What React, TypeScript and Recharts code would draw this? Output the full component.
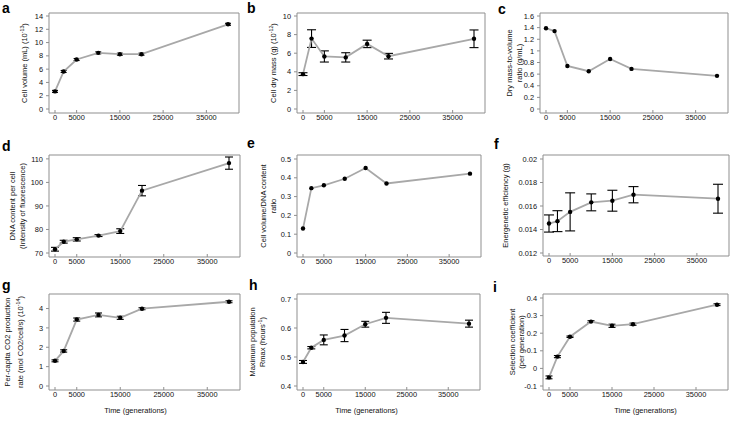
import React from "react";
import { LineChart, Line, XAxis, YAxis, CartesianGrid, ErrorBar, Label } from "recharts";

const FONT = "'Liberation Sans', Arial, sans-serif";

const generations = [0, 2000, 5000, 10000, 15000, 20000, 40000];
const xTicks = [0, 5000, 15000, 25000, 35000];

const cellVolume = [2.65, 5.65, 7.45, 8.45, 8.25, 8.25, 12.75];
const cellVolumeErr = [0.15, 0.15, 0.15, 0.15, 0.15, 0.15, 0.15];
const cellVolumeTicks = [0, 2, 4, 6, 8, 10, 12, 14];

const dryMass = [3.75, 7.57, 5.65, 5.55, 7.0, 5.68, 7.55];
const dryMassErr = [0.15, 0.95, 0.6, 0.5, 0.4, 0.3, 0.95];
const dryMassTicks = [0, 2, 4, 6, 8, 10];

const massToVolume = [1.39, 1.34, 0.74, 0.65, 0.86, 0.69, 0.57];
const massToVolumeTicks = [0, 0.2, 0.4, 0.6, 0.8, 1, 1.2, 1.4, 1.6];

const dnaContent = [71.6, 74.8, 75.8, 77.4, 79.3, 96.5, 108.2];
const dnaContentErr = [0.8, 0.6, 0.7, 0.4, 1.0, 2.2, 2.6];
const dnaContentTicks = [70, 80, 90, 100, 110];

const volumeDnaRatio = [0.13, 0.345, 0.36, 0.395, 0.452, 0.37, 0.422];
const volumeDnaTicks = [0, 0.1, 0.2, 0.3, 0.4, 0.5];

const energeticEff = [0.01451, 0.01471, 0.0155, 0.01631, 0.01645, 0.01696, 0.01662];
const energeticEffErr = [0.00073, 0.00089, 0.00162, 0.00072, 0.00089, 0.00069, 0.00123];
const energeticTicks = [0.012, 0.014, 0.016, 0.018, 0.02];

const co2Rate = [1.3, 1.81, 3.43, 3.67, 3.52, 3.99, 4.35];
const co2RateErr = [0.05, 0.06, 0.08, 0.1, 0.08, 0.05, 0.05];
const co2Ticks = [0, 1, 2, 3, 4];

const rmax = [0.483, 0.532, 0.559, 0.574, 0.613, 0.635, 0.615];
const rmaxErr = [0.005, 0.004, 0.017, 0.021, 0.01, 0.019, 0.012];
const rmaxTicks = [0.4, 0.5, 0.6, 0.7];

const selection = [-0.051, 0.067, 0.18, 0.266, 0.242, 0.251, 0.362];
const selectionErr = [0.008, 0.006, 0.004, 0.005, 0.009, 0.006, 0.005];
const selectionTicks = [-0.1, 0, 0.1, 0.2, 0.3, 0.4];

type TitleLine = { pre: string; sup?: string; post?: string };

type Panel = {
  letter: string;
  letterPos: [number, number];
  frame: { L: number; R: number; T: number; B: number };
  values: number[];
  errors?: number[];
  cap?: number;
  ticks: number[];
  domain: [number, number];
  pad: { top: number; bottom: number };
  title: TitleLine[];
  titleOffsets: number[];
  xTitleDx?: number;
};

const panels: Panel[] = [
  {
    letter: "a", letterPos: [2, 13], frame: { L: 49, R: 239, T: 13, B: 113 },
    values: cellVolume, errors: cellVolumeErr, cap: 3, ticks: cellVolumeTicks, domain: [0, 14], pad: { top: 3, bottom: 4 },
    title: [{ pre: "Cell volume (mL) (10", sup: "-13", post: ")" }], titleOffsets: [-25],
  },
  {
    letter: "b", letterPos: [247, 13], frame: { L: 297, R: 485, T: 13, B: 113 },
    values: dryMass, errors: dryMassErr, cap: 4.5, ticks: dryMassTicks, domain: [0, 10], pad: { top: 3, bottom: 4 },
    title: [{ pre: "Cell dry mass (g) (10", sup: "-12", post: ")" }], titleOffsets: [-24],
  },
  {
    letter: "c", letterPos: [498, 14], frame: { L: 540, R: 728, T: 13, B: 113 },
    values: massToVolume, ticks: massToVolumeTicks, domain: [0, 1.6], pad: { top: 3, bottom: 4 },
    title: [{ pre: "Dry mass-to-volume" }, { pre: "ratio (g/mL)" }], titleOffsets: [-31, -21],
  },
  {
    letter: "d", letterPos: [2, 151], frame: { L: 49, R: 240, T: 155, B: 257 },
    values: dnaContent, errors: dnaContentErr, cap: 4, ticks: dnaContentTicks, domain: [70, 110], pad: { top: 2, bottom: 4 },
    title: [{ pre: "DNA content per cell" }, { pre: "(Intensity of fluorescence)" }], titleOffsets: [-37, -27],
  },
  {
    letter: "e", letterPos: [247, 148], frame: { L: 297, R: 481, T: 155, B: 257 },
    values: volumeDnaRatio, ticks: volumeDnaTicks, domain: [0, 0.5], pad: { top: 4, bottom: 4 },
    title: [{ pre: "Cell volume/DNA content" }, { pre: "ratio" }], titleOffsets: [-34, -24],
  },
  {
    letter: "f", letterPos: [494, 149], frame: { L: 543, R: 729, T: 155, B: 256 },
    values: energeticEff, errors: energeticEffErr, cap: 5, ticks: energeticTicks, domain: [0.012, 0.02], pad: { top: 4, bottom: 3 },
    title: [{ pre: "Energenetic efficiency (g)" }], titleOffsets: [-38],
  },
  {
    letter: "g", letterPos: [2, 290], frame: { L: 49, R: 240, T: 294, B: 390 },
    values: co2Rate, errors: co2RateErr, cap: 3.5, ticks: co2Ticks, domain: [0, 4.75], pad: { top: 0, bottom: 4 },
    title: [{ pre: "Per-capita CO2 production" }, { pre: "rate (mol CO2/cell/s) (10", sup: "-14", post: ")" }],
    titleOffsets: [-42, -29], xTitleDx: -9,
  },
  {
    letter: "h", letterPos: [249, 290], frame: { L: 297, R: 480, T: 294, B: 390 },
    values: rmax, errors: rmaxErr, cap: 4, ticks: rmaxTicks, domain: [0.4, 0.7], pad: { top: 5, bottom: 4 },
    title: [{ pre: "Maximum population" }, { pre: "Rmax (hours", sup: "-1", post: ")" }],
    titleOffsets: [-45, -35], xTitleDx: -22,
  },
  {
    letter: "i", letterPos: [493, 292], frame: { L: 543, R: 728, T: 294, B: 390 },
    values: selection, errors: selectionErr, cap: 3.5, ticks: selectionTicks, domain: [-0.1, 0.4], pad: { top: 4, bottom: 4 },
    title: [{ pre: "Selection coefficient" }, { pre: "(per generation)" }],
    titleOffsets: [-31, -22], xTitleDx: 10,
  },
];

const YW = 52;
const TOP = 6;
const RIGHT = 4;
const TICK_FONT = 7.4;
const TITLE_FONT = 7.5;

const frameRows = ({ offset }: any) => [offset.top, offset.top + offset.height];
const frameCols = ({ offset }: any) => [offset.left, offset.left + offset.width];

function YTitle(props: any) {
  const { viewBox, lines, offsets } = props;
  const ax = viewBox.x + viewBox.width;
  const cy = viewBox.y + viewBox.height / 2;
  return (
    <g>
      {lines.map((ln: TitleLine, i: number) => {
        const x = ax + offsets[i];
        return (
          <text key={i} x={x} y={cy} dy="0.35em" textAnchor="middle" transform={`rotate(-90 ${x} ${cy})`}
            fontSize={TITLE_FONT} fill="#111" fontFamily={FONT}>
            {ln.pre}
            {ln.sup && <tspan dy={-3} fontSize={5.3}>{ln.sup}</tspan>}
            {ln.post && <tspan dy={3}>{ln.post}</tspan>}
          </text>
        );
      })}
    </g>
  );
}

function XTitle(props: any) {
  const { viewBox, dx } = props;
  return (
    <text x={viewBox.x + viewBox.width / 2 + dx} y={viewBox.y + 23} textAnchor="middle" fontSize={TITLE_FONT}
      fill="#111" fontFamily={FONT}>
      Time (generations)
    </text>
  );
}

function PanelChart({ p }: { p: Panel }) {
  const { L, R, T, B } = p.frame;
  const showX = p.xTitleDx !== undefined;
  const xh = showX ? 30 : 20;
  const width = R - L + YW + RIGHT;
  const height = B - T + TOP + xh;
  const rows = generations.map((gen, i) => ({ gen, v: p.values[i], e: p.errors ? p.errors[i] : 0 }));
  return (
    <div style={{ position: "absolute", left: L - YW, top: T - TOP, width, height }}>
      <LineChart width={width} height={height} data={rows} margin={{ top: TOP, right: RIGHT, left: 0, bottom: 0 }}>
        <CartesianGrid stroke="#8f8f8f" strokeWidth={1} fill="none"
          horizontalCoordinatesGenerator={frameRows} verticalCoordinatesGenerator={frameCols} />
        <XAxis type="number" dataKey="gen" domain={[0, 40000]} ticks={xTicks} interval={0}
          padding={{ left: 6, right: 11 }} height={xh} axisLine={false}
          tickLine={{ stroke: "#8f8f8f" }} tickSize={-3} tickMargin={5}
          tick={{ fontSize: TICK_FONT, fill: "#111", fontFamily: FONT }}>
          {showX && <Label content={(lp: any) => <XTitle {...lp} dx={p.xTitleDx} />} />}
        </XAxis>
        <YAxis type="number" domain={p.domain} ticks={p.ticks} interval={0}
          padding={p.pad} width={YW} axisLine={false}
          tickLine={{ stroke: "#8f8f8f" }} tickSize={3} tickMargin={3}
          tick={{ fontSize: TICK_FONT, fill: "#111", fontFamily: FONT }}>
          <Label content={(lp: any) => <YTitle {...lp} lines={p.title} offsets={p.titleOffsets} />} />
        </YAxis>
        <Line type="linear" dataKey="v" stroke="#a8a8a8" strokeWidth={1.8} isAnimationActive={false}
          dot={{ r: 2.2, fill: "#000", stroke: "#000", strokeWidth: 0 }} activeDot={false}>
          {p.errors && (
            <ErrorBar dataKey="e" direction="y" width={p.cap} strokeWidth={1.1} stroke="#000" isAnimationActive={false} />
          )}
        </Line>
      </LineChart>
    </div>
  );
}

export default function App() {
  return (
    <div style={{ position: "absolute", left: 0, top: 0, width: 731, height: 426, background: "#fff", overflow: "hidden" }}>
      {panels.map((p) => (
        <PanelChart key={p.letter} p={p} />
      ))}
      <svg width={731} height={426} style={{ position: "absolute", left: 0, top: 0, pointerEvents: "none" }}>
        {panels.map((p) => (
          <text key={p.letter} x={p.letterPos[0]} y={p.letterPos[1]} fontSize={14} fontWeight="bold" fill="#000" fontFamily={FONT}>
            {p.letter}
          </text>
        ))}
      </svg>
    </div>
  );
}
